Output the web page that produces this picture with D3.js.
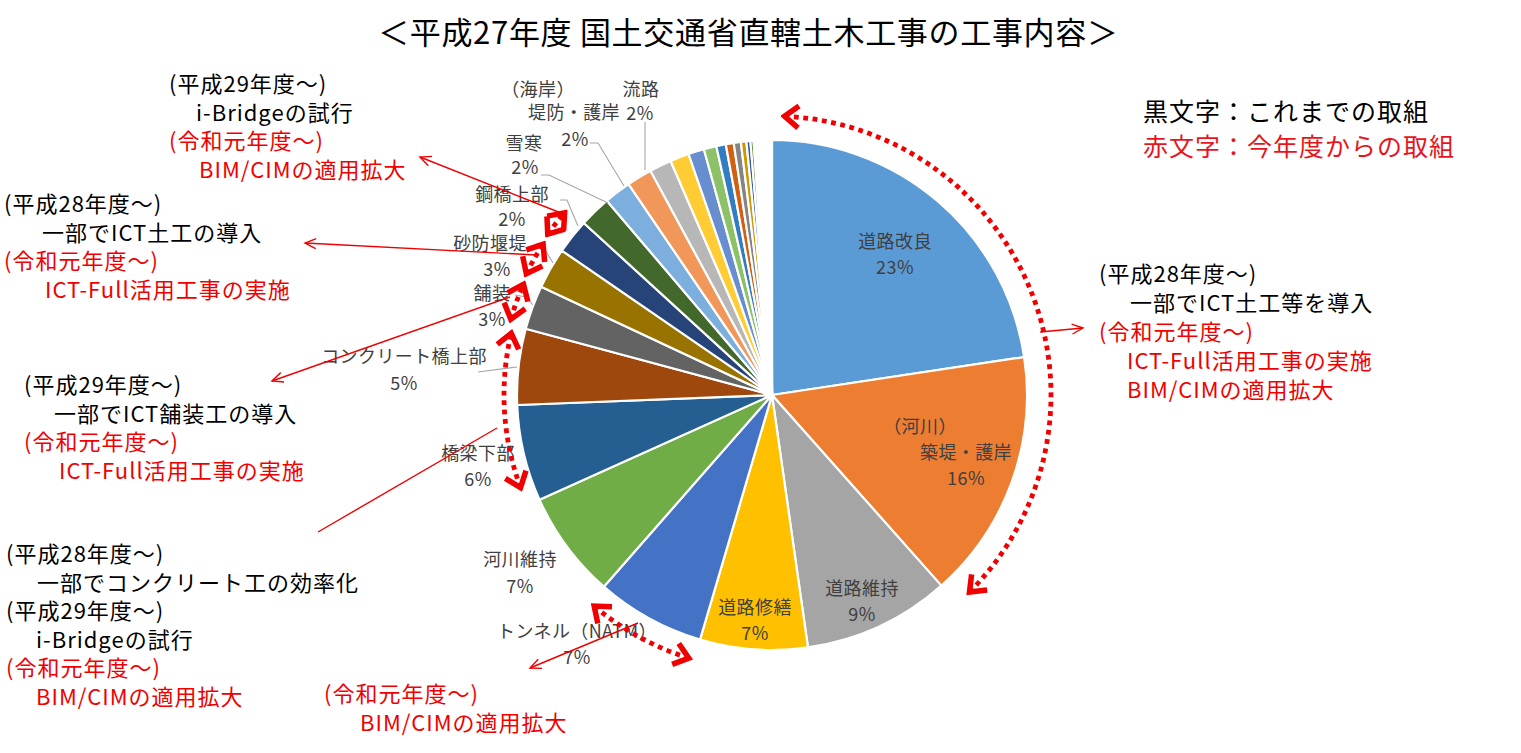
<!DOCTYPE html>
<html><head><meta charset="utf-8">
<script src="https://cdn.jsdelivr.net/npm/d3@7"></script>
<style>
html,body{margin:0;padding:0;background:#fff;}
svg{display:block;font-family:"Noto Sans CJK JP","Noto Sans",sans-serif;}
</style></head>
<body>
<svg id="chart" width="1521" height="753"></svg>
<script>
// ---- data ----
const title = "＜平成27年度 国土交通省直轄土木工事の工事内容＞";
const categories = ["道路改良","（河川）築堤・護岸","道路維持","道路修繕","トンネル（NATM）","河川維持","橋梁下部","コンクリート橋上部","舗装","砂防堰堤","鋼橋上部","雪寒","（海岸）堤防・護岸","流路",
  "その他01","その他02","その他03","その他04","その他05","その他06","その他07","その他08","その他09","その他10","その他11","その他12","その他13","その他14","その他15","その他16","その他17","その他18","その他19","その他20","その他21","その他22","その他23","その他24","その他25","その他26","その他27","その他28","その他29","その他30"];
const shares = [22.6,15.8,9.3,6.8,6.9,6.8,6.1,4.8,2.8,2.6,2.2,2.0,1.7,1.6,
  1.4,1.2,1.0,0.8,0.6,0.5,0.45,0.35,0.25,0.2,0.15,0.12,0.1,0.1,0.08,0.08,0.07,0.06,0.06,0.05,0.05,0.04,0.04,0.03,0.03,0.02,0.02,0.02,0.02,0.01];
const labelNames = [["道路改良"],["（河川）","築堤・護岸"],["道路維持"],["道路修繕"],["トンネル（NATM）"],["河川維持"],["橋梁下部"],["コンクリート橋上部"],["舗装"],["砂防堰堤"],["鋼橋上部"],["雪寒"],["（海岸）","堤防・護岸"],["流路"]];
const pctLabels = ["23%","16%","9%","7%","7%","7%","6%","5%","3%","3%","2%","2%","2%","2%"];
const colors = ["#5B9BD5","#ED7D31","#A5A5A5","#FFC000","#4472C4","#70AD47","#255E91","#9E480E","#636363","#997300","#264478","#43682B","#7CAFDD","#F1975A",
  "#B7B7B7","#FFCD33","#698ED0","#8CC168","#327DC2","#D26012","#848484","#CC9A00","#335AA1","#5A8A39","#9DC3E6","#F4B183","#C9C9C9","#FFE699","#8FAADC","#A9D18E","#1F4E79","#843C0C","#525252","#7F6000","#203864","#385723","#BDD7EE","#F8CBAD","#DBDBDB","#FFF2CC","#B4C7E7","#C5E0B4","#2E75B6","#C55A11"];
const legendLines = [{t:"黒文字：これまでの取組",c:"#000"},{t:"赤文字：今年度からの取組",c:"#E8141B"}];
// annotation text blocks: [text, isRed]
const noteTopLeft = [["(平成29年度～)",0],["i-Bridgeの試行",0],["(令和元年度～)",1],["BIM/CIMの適用拡大",1]];
const noteICT = [["(平成28年度～)",0],["一部でICT土工の導入",0],["(令和元年度～)",1],["ICT-Full活用工事の実施",1]];
const notePave = [["(平成29年度～)",0],["一部でICT舗装工の導入",0],["(令和元年度～)",1],["ICT-Full活用工事の実施",1]];
const noteConc = [["(平成28年度～)",0],["一部でコンクリート工の効率化",0],["(平成29年度～)",0],["i-Bridgeの試行",0],["(令和元年度～)",1],["BIM/CIMの適用拡大",1]];
const noteTunnel = [["(令和元年度～)",1],["BIM/CIMの適用拡大",1]];
const noteRight = [["(平成28年度～)",0],["一部でICT土工等を導入",0],["(令和元年度～)",1],["ICT-Full活用工事の実施",1],["BIM/CIMの適用拡大",1]];
// groups of categories covered by the dotted red arrows
const arrowGroups = [["道路改良","（河川）築堤・護岸"],["トンネル（NATM）"],["橋梁下部","コンクリート橋上部"],["舗装"],["砂防堰堤"],["鋼橋上部"]];

// ---- layout ----
const svg = d3.select("#chart");
const cx = 772, cy = 395, R = 255;
const RED = "#F00000", TXT = "#404040";

const defs = svg.append("defs");
defs.append("marker").attr("id","chev").attr("markerUnits","userSpaceOnUse")
  .attr("viewBox","-24 -16 28 32").attr("markerWidth",28).attr("markerHeight",32)
  .attr("refX",0).attr("refY",0).attr("orient","auto-start-reverse")
  .append("path").attr("d","M-14,-11 L0,0 L-14,11").attr("fill","none")
  .attr("stroke",RED).attr("stroke-width",5.5).attr("stroke-linecap","butt");
defs.append("marker").attr("id","thin").attr("markerUnits","userSpaceOnUse")
  .attr("viewBox","-14 -8 16 16").attr("markerWidth",16).attr("markerHeight",16)
  .attr("refX",0).attr("refY",0).attr("orient","auto-start-reverse")
  .append("path").attr("d","M-11,-5 L0,0 L-11,5").attr("fill","none")
  .attr("stroke",RED).attr("stroke-width",1.4);

// title
svg.append("text").attr("x",748).attr("y",30).attr("text-anchor","middle")
  .attr("dominant-baseline","central").attr("font-size",31).attr("fill","#000")
  .attr("textLength",740).attr("lengthAdjust","spacing")
  .text(title);

// pie
const pie = d3.pie().sort(null).value(d=>d).startAngle(0).endAngle(2*Math.PI);
const arcs = pie(shares);
const arcGen = d3.arc().innerRadius(0).outerRadius(R);
const g = svg.append("g").attr("transform",`translate(${cx},${cy})`);
g.selectAll("path.slice").data(arcs).join("path").attr("class","slice")
  .attr("d",arcGen).attr("fill",(d,i)=>colors[i % colors.length])
  .attr("stroke","#fff").attr("stroke-width",2.2).attr("stroke-linejoin","round");

// leader lines (gray)
const leaders = [
  [[645,122],[645,170]],
  [[590,143],[598,143],[624,186]],
  [[541,175],[549,175],[608,203]],
  [[560,200],[567,200],[578,226]],
  [[537,243],[542,245],[553,263]],
  [[515,295],[526,297],[533,305]],
  [[478,372],[517,367]]
];
svg.append("g").selectAll("path").data(leaders).join("path")
  .attr("d",d=>d3.line()(d)).attr("fill","none").attr("stroke","#A6A6A6").attr("stroke-width",1.1);

// data labels
const labelPos = [
  [[895,240],[895,266]],
  [[920,425],[966,451],[966,477]],
  [[862,587],[862,613]],
  [[755,606],[755,632]],
  [[577,630],[577,656]],
  [[520,558],[520,585]],
  [[478,452],[478,478]],
  [[404,355],[404,382]],
  [[492,292],[492,318]],
  [[490,242],[497,268]],
  [[512,193],[512,218]],
  [[524,142],[525,166]],
  [[538,88],[574,111],[575,138]],
  [[641,88],[640,112]]
];
const lg = svg.append("g").attr("font-size",18).attr("fill",TXT).attr("text-anchor","middle")
  .attr("dominant-baseline","central").attr("letter-spacing",0.4);
labelNames.forEach((lines,i)=>{
  const all = lines.concat([pctLabels[i]]);
  all.forEach((t,j)=>{
    lg.append("text").attr("x",labelPos[i][j][0]).attr("y",labelPos[i][j][1]).text(t);
  });
});

// dotted red arrows around groups
const cum = {};
arcs.forEach((a,i)=>{cum[categories[i]] = a;});
const arrowStyle = [
  {r:279,p0:0.045,p1:0.06},
  {r:276,p0:0.02,p1:0.02},
  {r:268,p0:0.07,p1:0.03},
  {r:272,p0:0.02,p1:0.02},
  {r:274,p0:0.02,p1:0.02},
  {r:276,p0:0.02,p1:0.02}
];
arrowGroups.forEach((grp,k)=>{
  const a0 = d3.min(grp,n=>cum[n].startAngle) + arrowStyle[k].p0;
  const a1 = d3.max(grp,n=>cum[n].endAngle) - arrowStyle[k].p1;
  const p = d3.path();
  const r = arrowStyle[k].r;
  p.moveTo(cx + r*Math.sin(a0), cy - r*Math.cos(a0));
  p.arc(cx, cy, r, a0 - Math.PI/2, a1 - Math.PI/2, false);
  svg.append("path").attr("d",p.toString()).attr("fill","none").attr("stroke",RED)
    .attr("stroke-width",4.8).attr("stroke-dasharray","4.8,4.6")
    .attr("marker-start","url(#chev)").attr("marker-end","url(#chev)");
});

// thin red pointer arrows
const pointers = [
  {pts:[[566,215],[420,157]],end:true},
  {pts:[[537,255],[305,243]],end:true},
  {pts:[[510,297],[272,381]],end:true},
  {pts:[[497,428],[318,532]],end:false},
  {pts:[[638,623],[530,668]],end:true},
  {pts:[[1040,332],[1083,328]],end:true}
];
pointers.forEach(pp=>{
  const el = svg.append("path").attr("d",d3.line()(pp.pts)).attr("fill","none")
    .attr("stroke",RED).attr("stroke-width",1.4);
  if(pp.end) el.attr("marker-end","url(#thin)");
});

// annotation blocks (x, first-line y, line height, indents per line)
function block(lines, x, y, lh, indents){
  const b = svg.append("g").attr("font-size",22).attr("letter-spacing",1)
    .attr("dominant-baseline","central");
  lines.forEach((l,i)=>{
    b.append("text").attr("x",x+indents[i]).attr("y",y+i*lh)
      .attr("fill",l[1]?RED:"#000").text(l[0]);
  });
}
block(noteTopLeft,169,82,28.5,[0,27,0,30]);
block(noteICT,4,202,28.5,[0,38,0,41]);
block(notePave,24,383,28.5,[0,30,0,35]);
block(noteConc,6,552,28.6,[0,31,0,30,0,30]);
block(noteTunnel,324,692,29,[0,36]);
block(noteRight,1099,272,29,[0,31,0,28,28]);

// legend
legendLines.forEach((l,i)=>{
  svg.append("text").attr("x",1143).attr("y",110+i*35).attr("font-size",25)
    .attr("letter-spacing",1)
    .attr("dominant-baseline","central").attr("fill",l.c).text(l.t);
});
</script>
</body></html>
